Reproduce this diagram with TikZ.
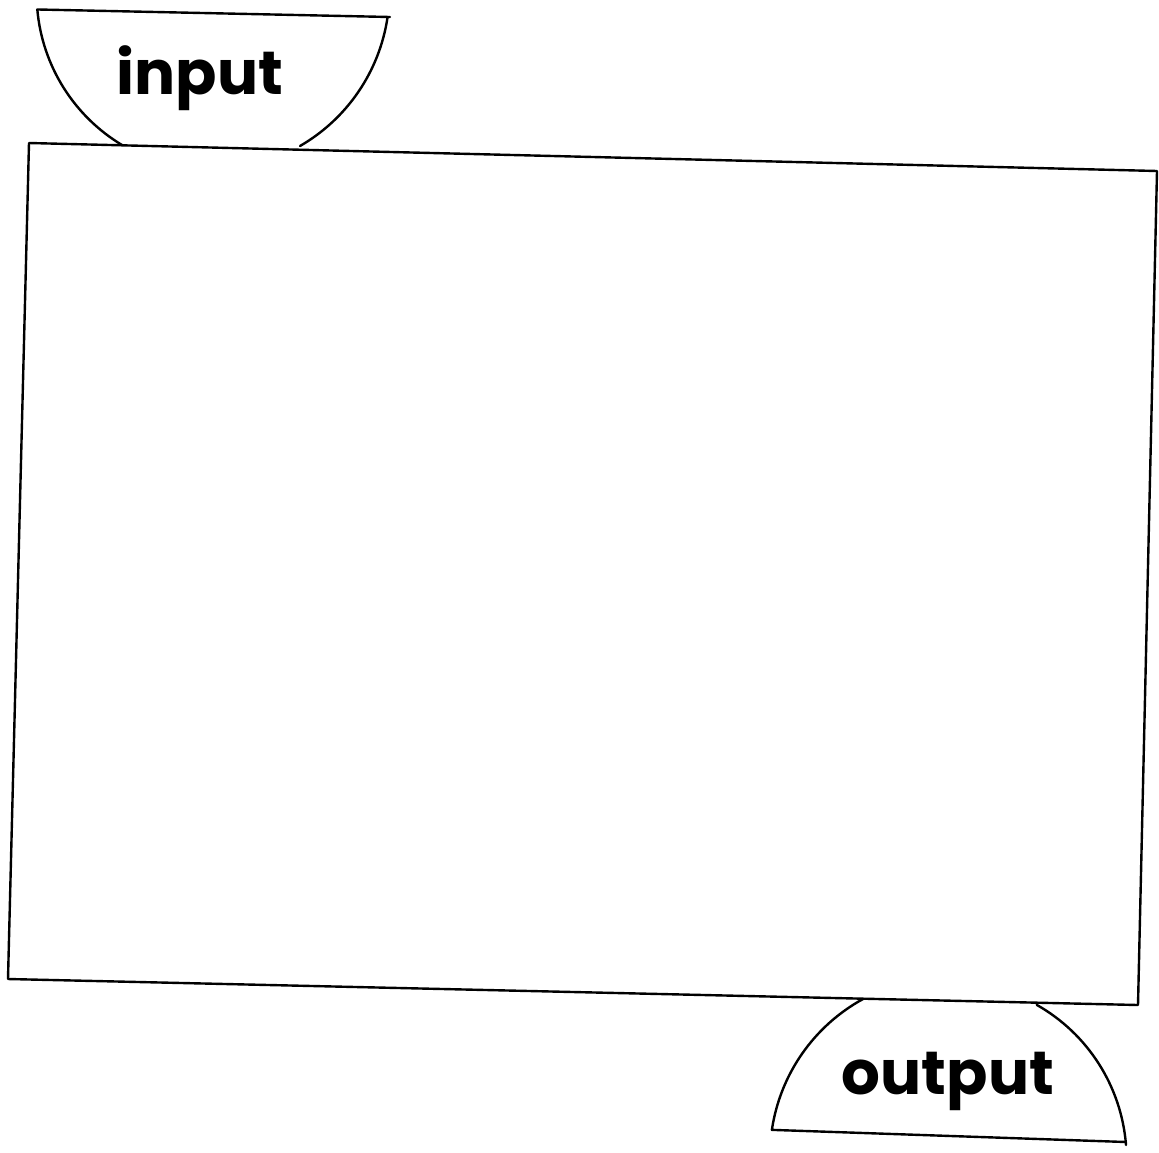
\documentclass[tikz,border=0pt]{standalone}
\usepackage{fontspec}
\newfontfamily\labelfont{Poppins}
\begin{document}
\begin{tikzpicture}[x=1pt,y=1pt,
  edge/.style={draw=black,line width=2.4pt,line join=round,line cap=round},
  lbl/.style={font=\labelfont\bfseries\fontsize{61}{61}\selectfont,inner sep=0pt,anchor=base}]
\useasboundingbox (0,0) rectangle (1159,-1152);
\fill[white] (0,0) rectangle (1159,-1152);
% main box
\draw[edge] (29,-143) coordinate (tl) -- (1157,-171) coordinate (tr)
  -- (1138,-1005) coordinate (br) -- (8,-979) coordinate (bl) -- cycle;
% input segment
\draw[edge] (122,-145) arc[start angle=239,end angle=185,radius=176]
  -- (390,-17) coordinate (inR);
\draw[edge] (300,-146) arc[start angle=-60,end angle=-8.5,radius=179];
% output segment
\draw[edge] (863,-999) arc[start angle=118.7,end angle=171.6,radius=179]
  -- (1126,-1142) coordinate (outR);
\draw[edge] (1126,-1145) arc[start angle=4.5,end angle=60.5,radius=177];
% labels
\node[lbl] (in) at (200,-94) {input};
\node[lbl] (out) at (948,-1094) {output};
\end{tikzpicture}
\end{document}
